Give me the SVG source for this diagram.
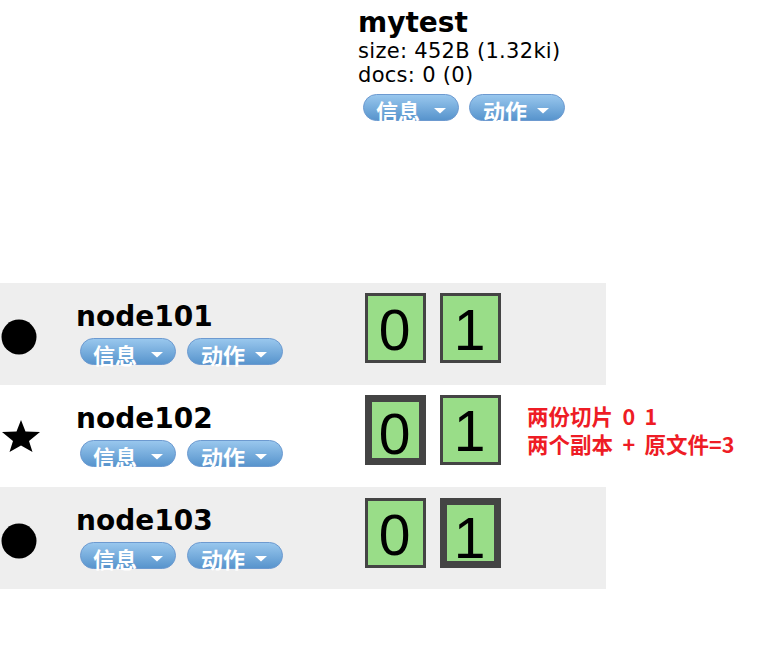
<svg xmlns="http://www.w3.org/2000/svg" width="776" height="651" viewBox="0 0 776 651">
<defs>
<linearGradient id="btnGrad" x1="0" y1="0" x2="0" y2="1">
<stop offset="0" stop-color="#9ac8ee"/>
<stop offset="1" stop-color="#5693cc"/>
</linearGradient>
<g id="btnInfo">
<rect x="0.5" y="0.5" width="95" height="26" rx="13" ry="13" fill="url(#btnGrad)" stroke="#6d9ad0" stroke-width="1"/>
<text x="13" y="25.5" class="btxt">信息</text>
<path d="M71 14 L83 14 L77 19.5 Z" fill="#ffffff"/>
</g>
<g id="btnAct">
<rect x="0.5" y="0.5" width="95" height="26" rx="13" ry="13" fill="url(#btnGrad)" stroke="#6d9ad0" stroke-width="1"/>
<text x="14" y="25.5" class="btxt">动作</text>
<path d="M68 14 L80 14 L74 19.5 Z" fill="#ffffff"/>
</g>
</defs>
<style>
.btxt{font-family:"Noto Sans CJK SC","Noto Sans",sans-serif;font-weight:bold;font-size:22px;fill:#ffffff}
.band{fill:#eeeeee}
.name{font-family:"DejaVu Sans",Verdana,sans-serif;font-weight:bold;font-size:28px;fill:#000000}
.info{font-family:"DejaVu Sans",Verdana,sans-serif;font-size:21px;letter-spacing:0.3px;fill:#000000}
.shard{fill:#99dd88;stroke:#444444}
.thin{stroke-width:3}
.thick{stroke-width:7}
.digit{font-family:"Liberation Sans",Arial,sans-serif;font-size:57px;fill:#000000;text-anchor:middle}
.note{font-family:"Noto Sans CJK SC","Noto Sans",sans-serif;font-weight:bold;font-size:21.5px;word-spacing:4.5px;fill:#ee1c25}
</style>
<rect width="776" height="651" fill="#ffffff"/>
<g id="index-mytest">
<text x="358" y="32" class="name">mytest</text>
<text x="358" y="58" class="info">size: 452B (1.32ki)</text>
<text x="358" y="82" class="info">docs: 0 (0)</text>
<use href="#btnInfo" x="363" y="94"/>
<use href="#btnAct" x="469" y="94"/>
</g>
<g id="row-node101">
<rect class="band" x="0" y="283" width="606" height="102"/>
<circle cx="19" cy="337" r="17.5" fill="#000000"/>
<text x="76" y="326" class="name">node101</text>
<use href="#btnInfo" x="80" y="338"/>
<use href="#btnAct" x="187" y="338"/>
<rect class="shard thin" x="366.5" y="294.5" width="58" height="67"/>
<text x="394.5" y="350" class="digit">0</text>
<rect class="shard thin" x="441.5" y="294.5" width="58" height="67"/>
<text x="469.5" y="350" class="digit">1</text>
</g>
<g id="row-node102">
<polygon points="21,420 25.5,431.5 40,432 29,441 32.5,452 21,445.5 9.5,452 13,441 2,432 16.5,431.5" fill="#000000"/>
<text x="76" y="428" class="name">node102</text>
<use href="#btnInfo" x="80" y="440"/>
<use href="#btnAct" x="187" y="440"/>
<rect class="shard thick" x="368.5" y="398.5" width="54" height="63"/>
<text x="394.5" y="454" class="digit">0</text>
<rect class="shard thin" x="441.5" y="396.5" width="58" height="67"/>
<text x="469.5" y="451" class="digit">1</text>
</g>
<g id="row-node103">
<rect class="band" x="0" y="487" width="606" height="102"/>
<circle cx="19" cy="541" r="17.5" fill="#000000"/>
<text x="76" y="530" class="name">node103</text>
<use href="#btnInfo" x="80" y="542"/>
<use href="#btnAct" x="187" y="542"/>
<rect class="shard thin" x="366.5" y="499.5" width="58" height="67"/>
<text x="394.5" y="555" class="digit">0</text>
<rect class="shard thick" x="443.5" y="501.5" width="54" height="63"/>
<text x="469.5" y="558" class="digit">1</text>
</g>
<g id="note">
<text x="527" y="425" class="note">两份切片 0 1</text>
<text x="527" y="453" class="note">两个副本 + 原文件=3</text>
</g>
<g id="connectors"></g>
</svg>
